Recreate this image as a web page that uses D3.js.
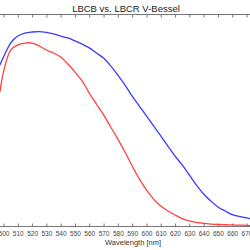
<!DOCTYPE html>
<meta charset="utf-8">
<style>
body { margin: 0; background: #fff; }
.tick text { font-family: "Liberation Sans", Arial, sans-serif; fill: #444; }
</style>
<body>
<script src="https://cdn.jsdelivr.net/npm/d3@7"></script>
<script>

// data (relative response, 0..1)
var wavelength = [497.5, 500, 505, 510, 515, 520, 525, 530, 535, 540, 545, 550, 555, 560,
  565, 570, 575, 580, 585, 590, 595, 600, 605, 610, 615, 620, 625, 630, 635, 640,
  645, 650, 655, 660, 665, 670, 672.5];
var lbcb = [0.759, 0.797, 0.863, 0.896, 0.910, 0.915, 0.917, 0.913, 0.906, 0.896, 0.887,
  0.873, 0.858, 0.840, 0.816, 0.792, 0.755, 0.712, 0.665, 0.613, 0.566, 0.519, 0.472,
  0.425, 0.377, 0.330, 0.288, 0.241, 0.193, 0.151, 0.118, 0.090, 0.071, 0.054, 0.045,
  0.038, 0.035];
var lbcr = [0.632, 0.726, 0.830, 0.854, 0.863, 0.863, 0.849, 0.830, 0.816, 0.797, 0.764,
  0.726, 0.684, 0.627, 0.575, 0.524, 0.467, 0.410, 0.349, 0.283, 0.222, 0.170, 0.127,
  0.094, 0.071, 0.052, 0.035, 0.024, 0.017, 0.012, 0.009, 0.007, 0.006, 0.005, 0.004,
  0.003, 0.002];
var xTicks = d3.range(500, 671, 10);

var width = 250, height = 250;
var x = d3.scaleLinear().domain([500, 670]).range([3.5, 246.5]);
var y = d3.scaleLinear().domain([0, 1]).range([226, 14]);

var svg = d3.select("body").append("svg")
    .attr("width", width)
    .attr("height", height);

svg.append("defs").append("clipPath").attr("id", "clip")
  .append("rect").attr("x", 0).attr("y", 14).attr("width", width).attr("height", 213);

// bottom axis
var xAxis = svg.append("g")
    .attr("transform", "translate(0,226.5)")
    .call(d3.axisBottom(x).tickValues(xTicks).tickSize(-3).tickPadding(5).tickFormat(d3.format("d")));
xAxis.select(".domain").attr("d", "M0,0H250").attr("stroke", "#777");
xAxis.selectAll(".tick line").attr("stroke", "#777");
xAxis.selectAll(".tick text").attr("font-size", 6.5);

// top axis
var topAxis = svg.append("g")
    .attr("transform", "translate(0,14.5)")
    .call(d3.axisTop(x).tickValues(xTicks).tickSize(-3).tickFormat(""));
topAxis.select(".domain").attr("d", "M0,0H250").attr("stroke", "#777");
topAxis.selectAll(".tick line").attr("stroke", "#777");

var line = function(vals) {
  return d3.line()
    .curve(d3.curveCatmullRom)
    .x(function(d, i) { return x(wavelength[i]); })
    .y(function(d) { return y(d); })(vals);
};

var plot = svg.append("g").attr("clip-path", "url(#clip)");
plot.append("path")
    .attr("d", line(lbcr))
    .attr("fill", "none")
    .attr("stroke", "#ff4040")
    .attr("stroke-width", 1.3);
plot.append("path")
    .attr("d", line(lbcb))
    .attr("fill", "none")
    .attr("stroke", "#3a3aff")
    .attr("stroke-width", 1.3);

svg.append("text")
    .attr("x", 126).attr("y", 11.5)
    .attr("text-anchor", "middle")
    .attr("font-family", "Liberation Sans, Arial, sans-serif")
    .attr("font-size", 9.5)
    .attr("fill", "#222")
    .text("LBCB vs. LBCR V-Bessel");

svg.append("text")
    .attr("x", 133).attr("y", 245)
    .attr("text-anchor", "middle")
    .attr("font-family", "Liberation Sans, Arial, sans-serif")
    .attr("font-size", 7.5)
    .attr("fill", "#333")
    .text("Wavelength [nm]");
</script>
</body>
